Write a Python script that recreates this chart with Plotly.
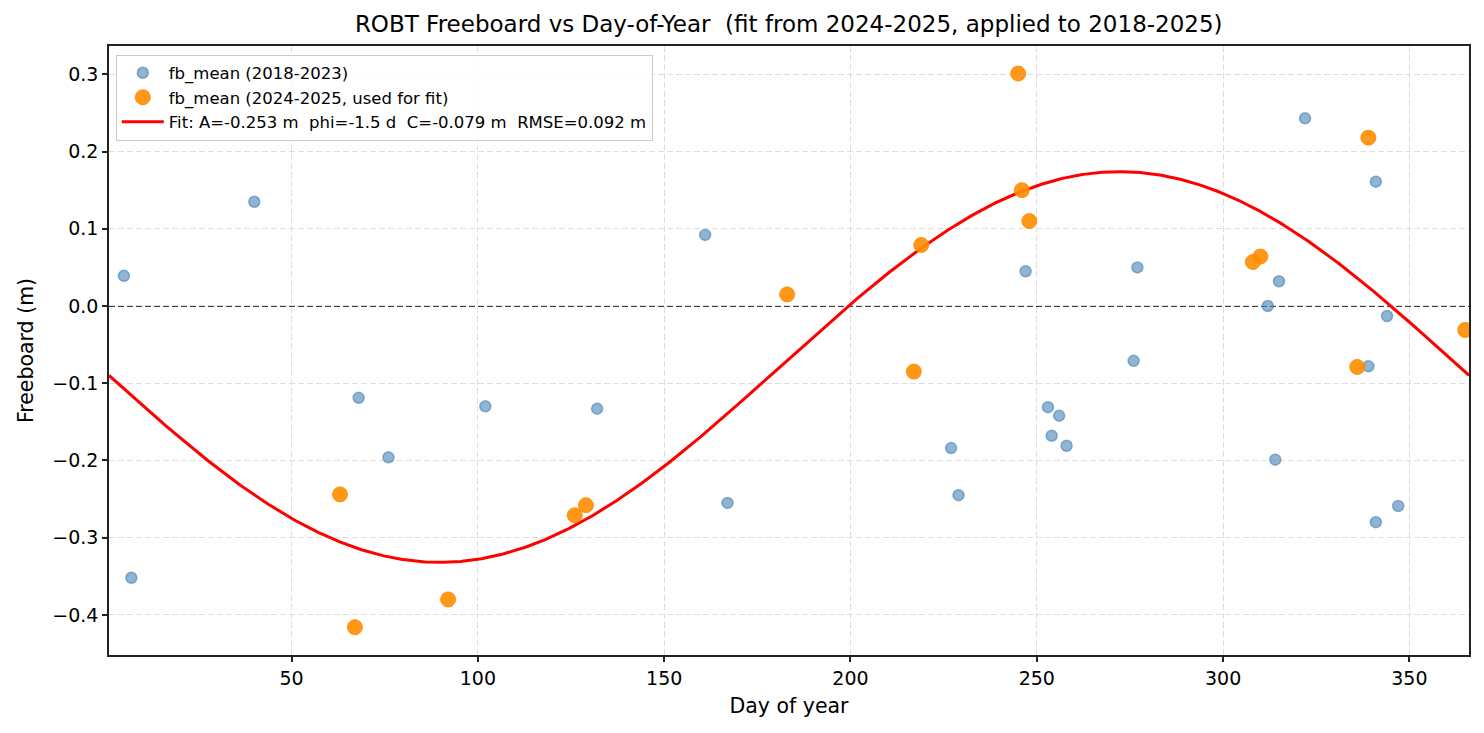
import numpy as np
import plotly.graph_objects as go

# ---- data ----
doy_old = [5, 7, 40, 68, 76, 102, 132, 161, 167, 227, 229, 247, 253, 254, 256, 258,
           276, 277, 312, 314, 315, 322, 339, 341, 341, 344, 347]
fb_old = [0.039, -0.352, 0.135, -0.119, -0.196, -0.130, -0.133, 0.092, -0.255, -0.184,
          -0.245, 0.045, -0.131, -0.168, -0.142, -0.181, -0.071, 0.050, 0.000, -0.199,
          0.032, 0.243, -0.078, 0.161, -0.280, -0.013, -0.259]

doy_fit = [63, 67, 92, 126, 129, 183, 217, 219, 245, 246, 248, 308, 310, 336, 339, 365]
fb_fit = [-0.244, -0.416, -0.380, -0.271, -0.258, 0.015, -0.085, 0.079, 0.301, 0.150,
          0.110, 0.057, 0.064, -0.079, 0.218, -0.031]

# fit parameters (from legend)
A = -0.253
PHI = -1.5
C = -0.079
RMSE = 0.092
PERIOD = 365.0

x_ticks = [50, 100, 150, 200, 250, 300, 350]
y_ticks = [-0.4, -0.3, -0.2, -0.1, 0.0, 0.1, 0.2, 0.3]

t = np.linspace(1, 366, 1461)
fit = C + A * np.sin(2 * np.pi * (t - PHI) / PERIOD)

FONT = "DejaVu Sans"

fig = go.Figure()

fig.add_trace(go.Scatter(
    x=t, y=fit, mode="lines",
    name=f"Fit: A={A:.3f} m  phi={PHI:.1f} d  C={C:.3f} m  RMSE={RMSE:.3f} m",
    line=dict(color="#ff0000", width=3),
    legendrank=3,
))
fig.add_trace(go.Scatter(
    x=doy_old, y=fb_old, mode="markers", name="fb_mean (2018-2023)",
    marker=dict(size=11, color="rgba(70,130,180,0.6)",
                line=dict(color="rgba(70,130,180,0.6)", width=1.5)),
    legendrank=1,
))
fig.add_trace(go.Scatter(
    x=doy_fit, y=fb_fit, mode="markers", name="fb_mean (2024-2025, used for fit)",
    marker=dict(size=15, color="rgba(255,140,0,0.9)",
                line=dict(color="rgba(255,140,0,0.9)", width=1)),
    legendrank=2,
))

fig.add_shape(type="line", xref="paper", x0=0, x1=1, yref="y", y0=0, y1=0,
              line=dict(color="black", width=1.5, dash="6px,3px"), layer="below")

axis_common = dict(
    showline=True, linecolor="#222222", linewidth=1.5, mirror=True,
    ticks="outside", ticklen=5, tickwidth=1.5, tickcolor="#222222",
    showgrid=True, gridcolor="#dedede", gridwidth=1, griddash="6px,3px",
    zeroline=False, tickfont=dict(family=FONT, size=19, color="black"),
)

fig.update_xaxes(range=[1, 366], tickvals=x_ticks,
                 title=dict(text="Day of year", font=dict(family=FONT, size=20.5, color="black"),
                            standoff=11),
                 **axis_common)
fig.update_yaxes(range=[-0.452, 0.3367], tickvals=y_ticks, tickformat=".1f",
                 title=dict(text="Freeboard (m)", font=dict(family=FONT, size=20.5, color="black"),
                            standoff=13),
                 **axis_common)

fig.update_layout(
    width=1484, height=733,
    margin=dict(l=109, r=15, t=46, b=78),
    paper_bgcolor="white", plot_bgcolor="white",
    font=dict(family=FONT, color="black"),
    title=dict(text="ROBT Freeboard vs Day-of-Year  (fit from 2024-2025, applied to 2018-2025)",
               x=0.5315, xanchor="center", y=0.967, yanchor="middle", yref="container",
               font=dict(family=FONT, size=23, color="black")),
    legend=dict(x=0.005, y=0.986, xanchor="left", yanchor="top",
                bgcolor="rgba(255,255,255,0.8)", bordercolor="#cccccc", borderwidth=1,
                font=dict(family=FONT, size=16.5, color="black"),
                tracegroupgap=0, itemwidth=42),
    showlegend=True,
)

fig.write_html("out.html")
